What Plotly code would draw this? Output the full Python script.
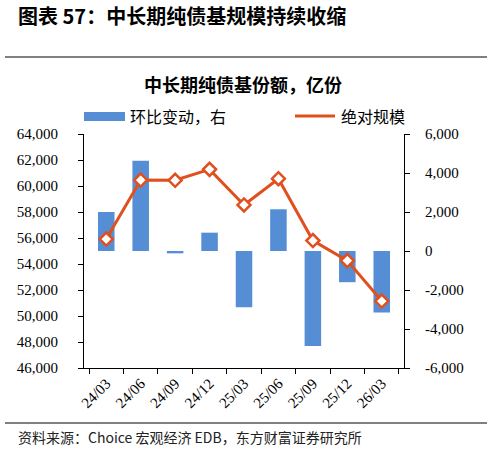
import plotly.graph_objects as go

categories = ["24/03", "24/06", "24/09", "24/12", "25/03", "25/06", "25/09", "25/12", "26/03"]
qoq_change = [2000, 4630, -120, 940, -2890, 2140, -4870, -1600, -3160]
total_scale = [55920, 60460, 60440, 61280, 58540, 60560, 55800, 54260, 51150]
left_ticks = [46000, 48000, 50000, 52000, 54000, 56000, 58000, 60000, 62000, 64000]
left_ticktext = ["46,000", "48,000", "50,000", "52,000", "54,000", "56,000", "58,000", "60,000", "62,000", "64,000"]
right_ticks = [-6000, -4000, -2000, 0, 2000, 4000, 6000]
right_ticktext = ["-6,000", "-4,000", "-2,000", "0", "2,000", "4,000", "6,000"]

BLUE = "#558ED5"
ORANGE = "#E0501E"
W, H = 493, 450
L, R, T, B = 84, 404, 134, 368

def px(x):
    return (x - L) / (R - L)

def py(y):
    return (B - y) / (B - T)

fig = go.Figure()
# bars on primary y (drawn on right side), line on overlaying y2 (left side) so line is on top
fig.add_trace(go.Bar(x=categories, y=qoq_change, yaxis="y", marker=dict(color=BLUE, line=dict(width=0)),
                     width=0.48, name="环比变动，右"))
fig.add_trace(go.Scatter(x=categories, y=total_scale, yaxis="y2", mode="lines+markers",
                         line=dict(color=ORANGE, width=3),
                         marker=dict(symbol="diamond", size=10, color="white", line=dict(color=ORANGE, width=2.5)),
                         name="绝对规模"))

tickfont = dict(family="Liberation Serif", size=15, color="#000")
fig.update_layout(
    width=W, height=H,
    margin=dict(l=L, r=W - R, t=T, b=H - B),
    paper_bgcolor="white", plot_bgcolor="white",
    showlegend=False,
    xaxis=dict(type="category", showline=True, linecolor="#000", linewidth=1, ticks="outside",
               tickson="boundaries", ticklen=5, tickcolor="#000", tickangle=-45,
               tickfont=dict(family="Liberation Serif", size=15, color="#000"), showgrid=False,
               zeroline=False),
    yaxis=dict(range=[-6000, 6000], tickvals=right_ticks, ticktext=right_ticktext, side="right",
               showline=True, linecolor="#000", linewidth=1, ticks="outside", ticklen=5,
               tickcolor="#000", tickfont=tickfont, showgrid=False, zeroline=False, ticklabelstandoff=12),
    yaxis2=dict(range=[46000, 64000], tickvals=left_ticks, ticktext=left_ticktext, overlaying="y",
                side="left", showline=True, linecolor="#000", linewidth=1, ticks="outside", ticklen=5,
                tickcolor="#000", tickfont=tickfont, showgrid=False, zeroline=False, ticklabelstandoff=17),
)

cjk = "Noto Sans CJK SC"
fig.add_annotation(text="<b>图表 57：中长期纯债基规模持续收缩</b>", xref="paper", yref="paper",
                   x=px(16), y=py(15), xanchor="left", yanchor="middle", showarrow=False,
                   font=dict(family=cjk, size=20, color="#000"))
fig.add_annotation(text="<b>中长期纯债基份额，亿份</b>", xref="paper", yref="paper",
                   x=px(243), y=py(84), xanchor="center", yanchor="middle", showarrow=False,
                   font=dict(family=cjk, size=18, color="#000"))
fig.add_annotation(text="资料来源：Choice 宏观经济 EDB，东方财富证券研究所", xref="paper", yref="paper",
                   x=px(16), y=py(437), xanchor="left", yanchor="middle", showarrow=False,
                   font=dict(family=cjk, size=14, color="#222"))
# legend
fig.add_shape(type="rect", xref="paper", yref="paper", x0=px(84), x1=px(125), y0=py(121), y1=py(112),
              fillcolor=BLUE, line=dict(width=0))
fig.add_annotation(text="环比变动，右", xref="paper", yref="paper", x=px(128), y=py(116),
                   xanchor="left", yanchor="middle", showarrow=False, font=dict(family=cjk, size=16, color="#000"))
fig.add_shape(type="line", xref="paper", yref="paper", x0=px(295), x1=px(335), y0=py(116), y1=py(116),
              line=dict(color=ORANGE, width=3))
fig.add_trace(go.Scatter(x=[px(315)], y=[py(116)], xaxis="x2", yaxis="y3", mode="markers",
                         marker=dict(symbol="diamond", size=9, color="white", line=dict(color=ORANGE, width=2)),
                         hoverinfo="skip", showlegend=False, cliponaxis=False))
fig.update_layout(
    xaxis2=dict(range=[0, 1], overlaying="x", visible=False),
    yaxis3=dict(range=[0, 1], overlaying="y", visible=False),
)
fig.add_annotation(text="绝对规模", xref="paper", yref="paper", x=px(339), y=py(116),
                   xanchor="left", yanchor="middle", showarrow=False, font=dict(family=cjk, size=16, color="#000"))
# separators
fig.add_shape(type="line", xref="paper", yref="paper", x0=px(5), x1=px(487), y0=py(57), y1=py(57),
              line=dict(color="#000", width=1))
fig.add_shape(type="line", xref="paper", yref="paper", x0=px(5), x1=px(487), y0=py(423), y1=py(423),
              line=dict(color="#000", width=1))

fig.write_html("out.html")
